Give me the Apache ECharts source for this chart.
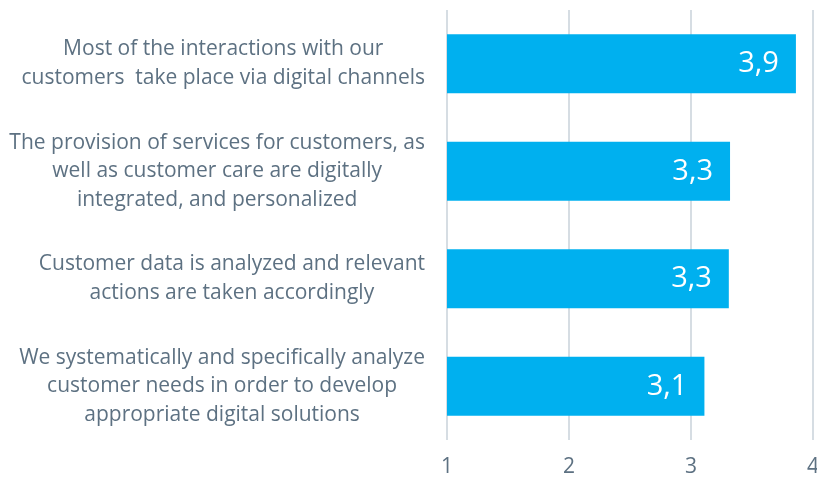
<!DOCTYPE html>
<html>
<head>
<meta charset="utf-8">
<script src="https://cdn.jsdelivr.net/npm/echarts@6/dist/echarts.min.js"></script>
<style>
  html, body { margin: 0; padding: 0; background: #fff; }
  #chart { width: 817px; height: 479px; }
</style>
</head>
<body>
<div id="chart"></div>
<script>
// categories, top to bottom
const categories = [
    'Most of the interactions with our\ncustomers  take place via digital channels',
    'The provision of services for customers, as\nwell as customer care are digitally\nintegrated, and personalized',
    'Customer data is analyzed and relevant\nactions are taken accordingly',
    'We systematically and specifically analyze\ncustomer needs in order to develop\nappropriate digital solutions'
];
// mean scores
const scores = [3.86, 3.32, 3.31, 3.11];
const xTicks = [1, 2, 3, 4];

var textColor = '#5d7182';
var chart = echarts.init(document.getElementById('chart'));

var option = {
    animation: false,
    grid: {
        left: 447, right: 4, top: 10, bottom: 39,
        containLabel: false,
        outerBoundsMode: 'none'
    },
    xAxis: {
        type: 'value',
        min: xTicks[0],
        max: xTicks[xTicks.length - 1],
        interval: 1,
        axisLine: { show: false },
        axisTick: { show: false },
        axisLabel: {
            color: textColor,
            fontFamily: 'Open Sans',
            fontSize: 21,
            margin: 17
        },
        splitLine: { lineStyle: { color: '#d6dde3', width: 2 } }
    },
    yAxis: {
        type: 'category',
        inverse: true,
        data: categories,
        axisLine: { show: false },
        axisTick: { show: false },
        axisLabel: {
            margin: 22,
            lineHeight: 28,
            // rich text so each line is centred inside its own block
            formatter: function (v) {
                return v.split('\n').map(s => '{c|' + s + '}').join('\n');
            },
            rich: {
                c: {
                    align: 'center',
                    color: textColor,
                    fontFamily: 'Open Sans',
                    fontSize: 21,
                    lineHeight: 28.5
                }
            }
        }
    },
    series: [{
        type: 'bar',
        data: scores,
        barWidth: 59,
        itemStyle: { color: '#00b0ef' },
        label: {
            show: true,
            position: 'insideRight',
            distance: 17,
            color: '#fff',
            fontFamily: 'Open Sans',
            fontSize: 29,
            formatter: function (p) {
                return p.value.toFixed(1).replace('.', ',');
            }
        }
    }]
};

chart.setOption(option);
</script>
</body>
</html>
